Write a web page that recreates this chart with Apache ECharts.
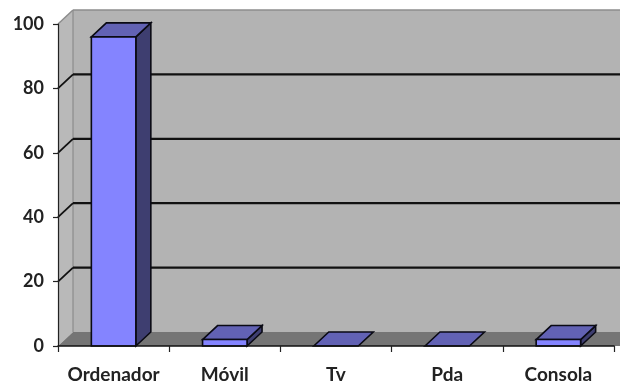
<!DOCTYPE html>
<html>
<head>
<meta charset="utf-8">
<style>html,body{margin:0;padding:0;background:#fff}#chart{width:620px;height:384px}</style>
<script src="https://cdn.jsdelivr.net/npm/echarts@6/dist/echarts.min.js"></script>
</head>
<body>
<div id="chart"></div>
<script>
// Device usage, drawn as an extruded column chart
const categories = ['Ordenador', 'Móvil', 'Tv', 'Pda', 'Consola'];
const values = [96, 2, 0, 0, 2];
const gridValues = [0, 20, 40, 60, 80, 100];

// Extrusion offset of the chart box
const DX = 15, DY = -14;
const BAR_SHARE = 0.4;

function poly(points, fill, stroke, width) {
  return { type: 'polygon', shape: { points },
    style: { fill, stroke: stroke || 'none', lineWidth: width || 0, lineJoin: 'miter' } };
}
function seg(x1, y1, x2, y2, stroke, width) {
  return { type: 'line', shape: { x1, y1, x2, y2 }, style: { stroke, lineWidth: width } };
}

// Walls, floor and gridlines of the box
function renderWalls(params, api) {
  const cs = params.coordSys;
  const v = api.value(1);
  const y = api.coord([0, v])[1];
  const left = cs.x, right = cs.x + cs.width + 20;
  const top = cs.y, bottom = cs.y + cs.height;
  const children = [];
  if (params.dataIndex === 0) {
    children.push(poly([[left + DX, top + DY], [right, top + DY], [right, bottom + DY], [left + DX, bottom + DY]], '#b3b3b3'));
    children.push(poly([[left, top], [left + DX, top + DY], [left + DX, bottom + DY], [left, bottom]], '#b9b9b9'));
    children.push(poly([[left, bottom], [left + DX, bottom + DY], [right, bottom + DY], [right, bottom]], '#757575'));
    children.push(seg(left + DX, top + DY, left + DX, bottom + DY, '#8c8c8c', 1.2));
  }
  if (v === 100) {
    children.push(seg(left, y, left + DX, y + DY, '#8c8c8c', 1.5));
    children.push(seg(left + DX, y + DY, right, y + DY, '#8c8c8c', 1.5));
  } else if (v > 0) {
    children.push(seg(left, y, left + DX, y + DY, '#111', 1.8));
    children.push(seg(left + DX, y + DY, right, y + DY, '#111', 2.2));
  }
  return { type: 'group', children };
}

// One extruded column: side, top and front faces
function renderColumn(params, api) {
  const base = api.coord([api.value(0), 0]);
  const head = api.coord([api.value(0), api.value(1)]);
  const w = api.size([1, 0])[0] * BAR_SHARE;
  const x0 = base[0] - w / 2, x1 = base[0] + w / 2;
  const y0 = base[1], y1 = head[1];
  const line = '#0a0a14';
  const children = [];
  if (y0 > y1) {
    children.push(poly([[x1, y1], [x1 + DX, y1 + DY], [x1 + DX, y0 + DY], [x1, y0]], '#3e3e70', line, 1.6));
  }
  children.push(poly([[x0, y1], [x0 + DX, y1 + DY], [x1 + DX, y1 + DY], [x1, y1]], '#6262b4', line, 1.6));
  if (y0 > y1) {
    children.push(poly([[x0, y1], [x1, y1], [x1, y0], [x0, y0]], '#8484ff', line, 1.6));
  }
  return { type: 'group', children };
}

const chart = echarts.init(document.getElementById('chart'), null, { renderer: 'canvas' });
const labelFont = { color: '#222', fontFamily: 'Lato', fontWeight: 700 };
chart.setOption({
  animation: false,
  backgroundColor: '#fff',
  grid: { left: 58, right: 6, top: 24, bottom: 38, containLabel: false },
  xAxis: {
    type: 'category',
    data: categories,
    z: 5,
    axisLine: { onZero: false, lineStyle: { color: '#111', width: 1.5 } },
    axisTick: { show: true, alignWithLabel: false, length: 6, lineStyle: { color: '#222', width: 1.2 } },
    axisLabel: { ...labelFont, fontSize: 19, margin: 19, interval: 0 },
    splitLine: { show: false }
  },
  yAxis: {
    type: 'value',
    min: 0, max: 100, interval: 20,
    z: 5,
    axisLine: { show: true, lineStyle: { color: '#222', width: 1.2 } },
    axisTick: { show: true, length: 5, lineStyle: { color: '#222', width: 1.2 } },
    axisLabel: { ...labelFont, fontSize: 18, margin: 14 },
    splitLine: { show: false }
  },
  series: [
    {
      type: 'custom', z: 1, clip: false, silent: true,
      renderItem: renderWalls,
      encode: { x: 0, y: 1 },
      data: gridValues.map(v => [0, v])
    },
    {
      type: 'custom', z: 2, clip: false,
      renderItem: renderColumn,
      encode: { x: 0, y: 1 },
      data: values.map((v, i) => [i, v])
    }
  ]
});
</script>
</body>
</html>
